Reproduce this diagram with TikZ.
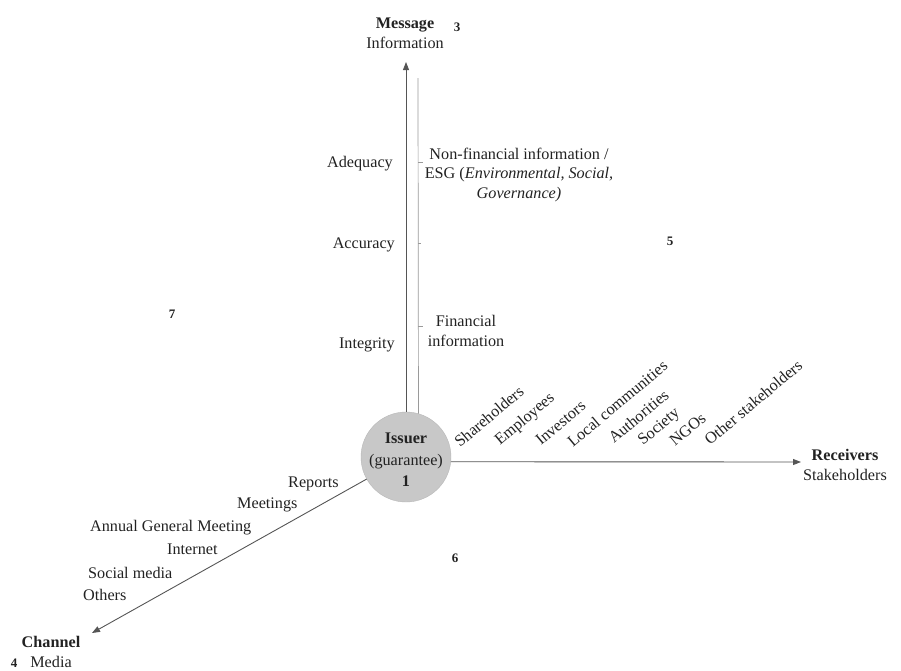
\documentclass[tikz,border=0pt]{standalone}
\usepackage{fontspec}
\setmainfont{Liberation Serif}
\usetikzlibrary{arrows.meta}
\definecolor{txt}{HTML}{222222}
\definecolor{ln}{HTML}{555555}
\definecolor{lnl}{HTML}{9A9A9A}
\definecolor{disk}{HTML}{C8C8C8}
\begin{document}
\begin{tikzpicture}[x=1pt,y=-1pt,
  lbl/.style={inner sep=0pt, text=txt, font=\fontsize{16.2}{20}\selectfont},
  blk/.style={lbl, align=center},
  num/.style={inner sep=0pt, text=txt, font=\fontsize{13}{15}\selectfont\bfseries},
  arr/.style={draw=ln, line width=0.9pt, -{Triangle[length=8pt,width=6pt]}},
  rcv/.style={lbl, rotate=40, anchor=base west},
  chn/.style={lbl, anchor=base west},
  qual/.style={lbl, anchor=base east}]
\useasboundingbox (0,0) rectangle (901,670);

% issuer disk
\node[circle, fill=disk, draw=disk!92!black, minimum size=90pt, inner sep=0pt] (issuer) at (406,457) {};
\node[blk, font=\fontsize{16.2}{21.5}\selectfont] (issuerlbl) at (406,460) {\textbf{Issuer}\\(guarantee)\\\textbf{1}};

% axes
\coordinate (msgtip) at (406,62);
\coordinate (rcvtip) at (801,462);
\coordinate (chtip) at (92,633);
\draw[arr] (issuer.north) -- (msgtip);
\draw[arr] (issuer.-6) -- (rcvtip);
\draw[arr] (issuer) -- (chtip);

% bracket line
\coordinate (brtop) at (418,78);
\draw[lnl, line width=0.7pt] (brtop) -- (issuer.74.5);
\draw[lnl, line width=0.7pt] (418,162) -- ++(5,0);
\draw[lnl, line width=0.7pt] (418,243) -- ++(3,0);
\draw[lnl, line width=0.7pt] (418,326) -- ++(5,0);

% axis titles
\node[blk] (msg) at (405,33) {\textbf{Message}\\Information};
\node[blk] (rcvt) at (845,465) {\textbf{Receivers}\\Stakeholders};
\node[blk] (chnt) at (51,652) {\textbf{Channel}\\Media};

% numbers
\node[num] (n3) at (457,27) {3};
\node[num] (n5) at (670,241) {5};
\node[num] (n7) at (172,314) {7};
\node[num] (n6) at (455,558) {6};
\node[num] (n4) at (14,663) {4};

% message qualities
\node[qual] (adeq) at (393,167) {Adequacy};
\node[qual] (accu) at (395,248) {Accuracy};
\node[qual] (integ) at (395,348) {Integrity};

% information types
\node[blk, font=\fontsize{16.2}{19.5}\selectfont] (nonfin) at (519,175) {Non-financial information /\\ESG (\textit{Environmental, Social,}\\\textit{Governance)}};
\node[blk] (fin) at (466,331) {Financial\\information};

% receivers
\node[rcv] (r1) at (460,448) {Shareholders};
\node[rcv] (r2) at (500,446) {Employees};
\node[rcv] (r3) at (541,446) {Investors};
\node[rcv] (r4) at (573,448) {Local communities};
\node[rcv] (r5) at (614,444) {Authorities};
\node[rcv] (r6) at (643,446) {Society};
\node[rcv] (r7) at (675,447) {NGOs};
\node[rcv] (r8) at (710,446) {Other stakeholders};

% channels
\node[chn] (c1) at (288,487) {Reports};
\node[chn] (c2) at (237,508) {Meetings};
\node[chn] (c3) at (90,531) {Annual General Meeting};
\node[chn] (c4) at (167,554) {Internet};
\node[chn] (c5) at (88,578) {Social media};
\node[chn] (c6) at (83,600) {Others};
\end{tikzpicture}
\end{document}
